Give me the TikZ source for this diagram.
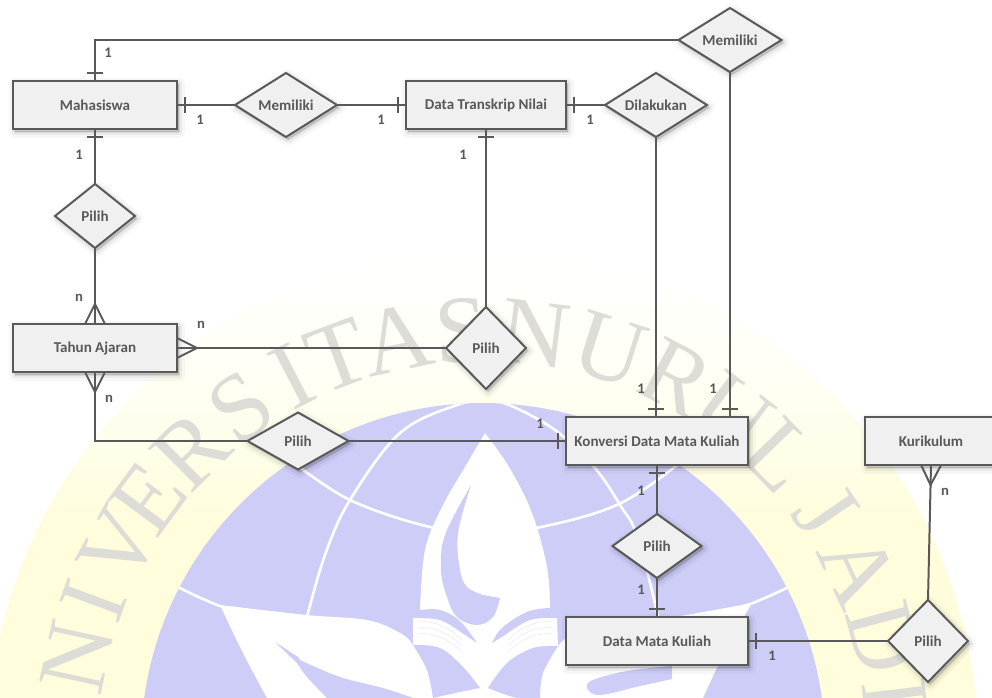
\documentclass[tikz,border=0pt]{standalone}
\usepackage{fontspec}
\setmainfont{Carlito}
\newfontfamily\wmfont{Liberation Serif}
\usetikzlibrary{shapes.geometric,decorations.markings,calc}
\definecolor{ink}{HTML}{595959}
\definecolor{boxfill}{HTML}{F0F0F0}
\definecolor{wmblue}{HTML}{CDCDF8}
\definecolor{wmyellow}{HTML}{FFFDDC}
\definecolor{wmpale}{HTML}{FFFFF6}
\definecolor{wmgrey}{HTML}{DDDCD6}
\definecolor{wmpage}{HTML}{EEEEF4}
\tikzset{
  softshadow/.style={
    preaction={transform canvas={xshift=1.5pt,yshift=-2pt},draw=black,fill=black,opacity=.03,line width=9pt,line join=round},
    preaction={transform canvas={xshift=1.5pt,yshift=-2pt},draw=black,fill=black,opacity=.05,line width=5pt,line join=round},
    preaction={transform canvas={xshift=1.5pt,yshift=-2pt},draw=black,fill=black,opacity=.07,line width=1.5pt,line join=round}},
  er/.style={draw=ink,fill=boxfill,line width=1.49pt,text=ink,inner sep=0pt,outer sep=0pt,
    font=\fontsize{11.3}{13}\selectfont\bfseries,softshadow},
  entbox/.style={er,rectangle,minimum width=#1*0.75pt,minimum height=36pt},
  relbox/.style n args={2}{er,diamond,/utils/exec={\pgfmathsetmacro\asp{#1/#2}},shape aspect=\asp,minimum width=#1*0.75pt,minimum height=#2*0.75pt},
  lnk/.style={draw=ink,line width=1.49pt},
  card/.style={text=ink,inner sep=0pt,font=\fontsize{11}{13}\selectfont\bfseries},
  tickstart/.style={postaction={decorate,decoration={markings,mark=at position 6pt with {\draw[lnk] (0,-6pt)--(0,6pt);}}}},
  tickend/.style={postaction={decorate,decoration={markings,mark=at position -6pt with {\draw[lnk] (0,-6pt)--(0,6pt);}}}},
  crowstart/.style={postaction={decorate,decoration={markings,mark=at position 15pt with {\draw[lnk] (-15pt,-7.5pt)--(0,0)--(-15pt,7.5pt);}}}},
  crowend/.style={postaction={decorate,decoration={markings,mark=at position -15pt with {\draw[lnk] (15pt,-7.5pt)--(0,0)--(15pt,7.5pt);}}}},
  wmletter/.style={text=wmgrey,inner sep=0pt,font=\wmfont\fontsize{72}{72}\selectfont},
  wmline/.style={white,line width=2pt},
  sm/.style={smooth,tension=.6}
}
\begin{document}
\begin{tikzpicture}[x=0.75pt,y=-0.75pt]
\useasboundingbox (0,0) rectangle (992,698);
\fill[white] (0,0) rectangle (992,698);
\begin{scope}
\clip (0,0) rectangle (992,698);
% watermark ring and disc
\begin{scope}
\clip (483,745) circle[radius=495];
\shade[top color=white,bottom color=wmpale] (-20,250) rectangle (1010,370);
\shade[top color=wmpale,bottom color=wmyellow] (-20,369.5) rectangle (1010,520);
\fill[wmyellow] (-20,519.5) rectangle (1010,720);
\end{scope}
\fill[wmblue] (483,745) circle[radius=342];
% globe lines
\begin{scope}
\clip (483,745) circle[radius=342];
\draw[wmline] plot[sm] coordinates {(307,617)(325,555)(350,500)(400,433)(457,405)(485,401)};
\draw[wmline] plot[sm] coordinates {(485,401)(509,405)(555,430)(594,467)(620,505)(640,545)(673,680)};
\draw[wmline] plot[sm] coordinates {(290,460)(350,500)(430,527)(485,532)(541,527)(621,503)(690,455)};
\draw[wmline] plot[sm] coordinates {(170,583)(220,606)(270,617)};
\draw[wmline] plot[sm] coordinates {(797,583)(750,604)(700,617)};
\end{scope}
% flame
\fill[white] plot[sm] coordinates {(485,433)(509,467)(532,513)(547,567)(550,608)} -- (550,650) -- (420,650) -- plot[sm] coordinates {(420,610)(425,550)(442,507)(465,467)(485,433)} -- cycle;
% book
\fill[white] (413,618) -- (557,618) -- (558,646) -- (540,698) -- (433,698) -- (413,645) -- cycle;
\fill[wmblue] plot[sm] coordinates {(420,610)(440,610)(460,621)(477,643)} -- plot[sm] coordinates {(462,633)(440,620)(413,618)} -- cycle;
\fill[wmblue] plot[sm] coordinates {(550,608)(533,610)(517,617)(500,630)(492,643)} -- plot[sm] coordinates {(505,635)(530,620)(557,618)} -- cycle;
\fill[wmblue] plot[sm] coordinates {(471,485)(445,535)(441,570)(447,597)(457,617)(477,625)(493,617)(500,598)} -- plot[sm] coordinates {(483,595)(467,587)(460,570)(458,533)(471,485)} -- cycle;
\foreach \dy in {0,6,12}{
  \draw[wmpage,line width=.5pt] (417,622+\dy) .. controls (435,620+\dy) and (450,628+\dy) .. (462,640+\dy);
  \draw[wmpage,line width=.5pt] (553,622+\dy) .. controls (535,620+\dy) and (520,628+\dy) .. (508,640+\dy);
}
% leaves
\fill[white] plot[sm] coordinates {(220,605)(307,615)(367,620)(400,633)(413,645)(427,670)(433,698)} -- plot[sm] coordinates {(267,698)(243,653)(220,605)} -- cycle;
\fill[wmblue] (275,642) -- (298,657) -- plot[sm] coordinates {(300,660)(340,677)(383,688)(413,698)} -- (327,698) -- plot[sm] coordinates {(327,698)(307,677)(297,663)} -- cycle;
\fill[white] plot[sm] coordinates {(752,603)(673,617)(610,623)(575,633)(558,646)(543,673)(540,698)} -- (703,698) -- plot[sm] coordinates {(703,698)(727,647)(752,603)} -- cycle;
\fill[wmblue] plot[sm] coordinates {(672,666)(627,671)(593,680)(587,688)(600,695)(640,686)(672,679)} -- cycle;
\draw[wmline,line width=1.5pt] (673,664) -- (674,680);
% wedges under the book
\fill[wmblue] plot[sm] coordinates {(413,645)(440,648)(463,667)(480,688)} -- plot[sm] coordinates {(480,688)(460,692)(433,698)} -- plot[sm] coordinates {(433,698)(427,670)(413,645)} -- cycle;
\fill[wmblue] plot[sm] coordinates {(558,646)(533,648)(507,663)(488,688)} -- plot[sm] coordinates {(488,688)(517,698)(540,698)} -- plot[sm] coordinates {(540,698)(543,673)(558,646)} -- cycle;
% watermark text
\foreach \l/\a in {N/167.7,I/159.7,V/151.4,E/143.6,R/134.8,S/125.6,I/117.4,T/110.4,A/102,S/93,N/82.8,U/72.2,R/62.2,U/53,L/44.2,J/34.3,A/25,D/15,I/7}
  \node[wmletter,rotate=\a-90] at ({483+415*cos(\a)},{745-415*sin(\a)}) {\l};
\end{scope}
% entities
\node[entbox=164] (mhs) at (95,105) {Mahasiswa};
\node[entbox=160] (dtn) at (486,105) {Data Transkrip Nilai};
\node[entbox=164] (thn) at (95,348) {Tahun Ajaran};
\node[entbox=182] (kon) at (657,441) {Konversi Data Mata Kuliah};
\node[entbox=132] (kur) at (931,441) {Kurikulum};
\node[entbox=182] (dmk) at (657,641) {Data Mata Kuliah};
% relations
\node[relbox={103}{64}] (rm1) at (730,40) {Memiliki};
\node[relbox={102}{64}] (rm2) at (286,105) {Memiliki};
\node[relbox={102}{64}] (rdl) at (656,105) {Dilakukan};
\node[relbox={80}{64}] (rp1) at (95,216) {Pilih};
\node[relbox={80}{82}] (rp2) at (486,348) {Pilih};
\node[relbox={101}{57}] (rp3) at (298,441) {Pilih};
\node[relbox={89}{64}] (rp4) at (657,546) {Pilih};
\node[relbox={80}{82}] (rp5) at (928,641) {Pilih};
% connectors
\draw[lnk,tickstart] (mhs.north) |- (rm1.west);
\draw[lnk,tickstart] (mhs.east) -- (rm2.west);
\draw[lnk,tickend] (rm2.east) -- (dtn.west);
\draw[lnk,tickstart] (dtn.east) -- (rdl.west);
\draw[lnk,tickend] (rdl.south) -- (rdl.south |- kon.north);
\draw[lnk,tickend] (rm1.south) -- (rm1.south |- kon.north);
\draw[lnk,tickstart] (mhs.south) -- (rp1.north);
\draw[lnk,crowend] (rp1.south) -- (thn.north);
\draw[lnk,tickstart] (dtn.south) -- (rp2.north);
\draw[lnk,crowstart] (thn.east) -- (rp2.west);
\draw[lnk,crowstart] (thn.south) |- (rp3.west);
\draw[lnk,tickend] (rp3.east) -- (kon.west);
\draw[lnk,tickstart] (kon.south) -- (rp4.north);
\draw[lnk,tickend] (rp4.south) -- (dmk.north);
\draw[lnk,tickstart] (dmk.east) -- (rp5.west);
\draw[lnk,crowstart] (kur.south) -- (rp5.north);
% cardinalities
\foreach \t/\x/\y/\n in {1/108/53/ca,1/200/120/cb,1/381/120/cc,1/79/155/cd,1/463/155/ce,n/79/298/cf,n/201/325/cg,n/109/399/ch,1/590/120/ci,1/641/389/cj,1/713/389/ck,1/540/424/cl,1/641/491/cm,1/641/590/cn,1/772/656/co,n/945/492/cp}
  \node[card] (\n) at (\x,\y) {\t};
\end{tikzpicture}
\end{document}
